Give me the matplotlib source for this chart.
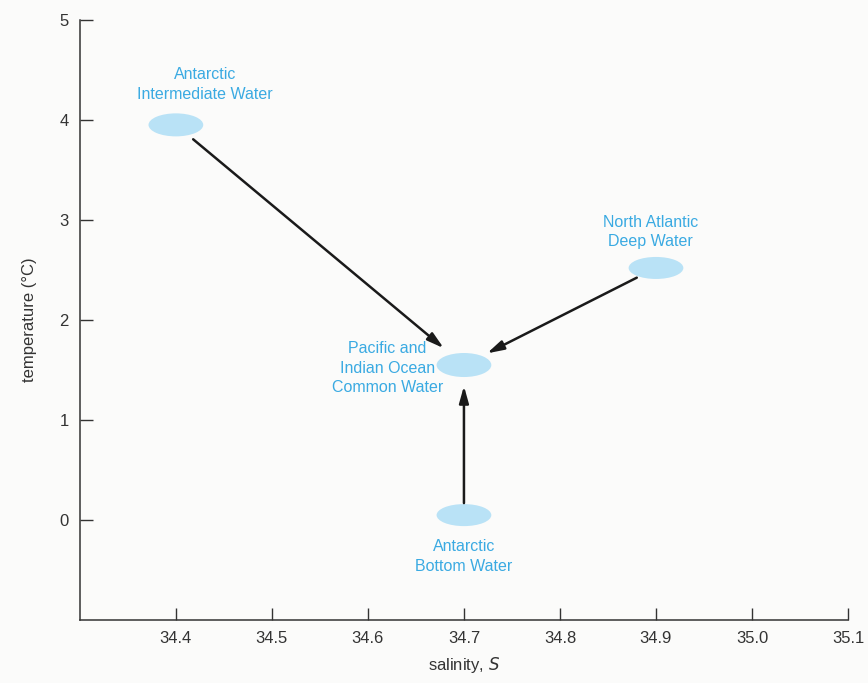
import matplotlib
matplotlib.use("Agg")
import matplotlib.pyplot as plt
from matplotlib.patches import Ellipse

# Water masses: name, salinity, temperature
water_names = [
    "Antarctic\nIntermediate Water",
    "Pacific and\nIndian Ocean\nCommon Water",
    "North Atlantic\nDeep Water",
    "Antarctic\nBottom Water",
]
salinity = [34.40, 34.70, 34.90, 34.70]
temperature = [3.95, 1.55, 2.52, 0.05]

# Label anchor positions (salinity, temperature)
label_s = [34.43, 34.62, 34.894, 34.70]
label_t = [4.35, 1.52, 2.88, -0.36]

# Mixing arrows: source index -> target index
arrow_from = [0, 2, 3]
arrow_to = [1, 1, 1]

xticks = [34.4, 34.5, 34.6, 34.7, 34.8, 34.9, 35.0, 35.1]
yticks = [0, 1, 2, 3, 4, 5]

plt.rcParams['font.family'] = ['Liberation Sans', 'DejaVu Sans']

fig = plt.figure(figsize=(8.68, 6.83), dpi=100, facecolor="#fbfbfa")
ax = fig.add_axes([0.092, 0.092, 0.885, 0.879])
ax.set_facecolor("#fbfbfa")

ax.set_xlim(34.3, 35.1)
ax.set_ylim(-1, 5)

blob_color = "#b9e2f6"
text_color = "#3aaae2"

heights = [0.23, 0.24, 0.22, 0.22]
for s, t, h in zip(salinity, temperature, heights):
    ax.add_patch(Ellipse((s, t), 0.057, h, facecolor=blob_color, edgecolor="none", zorder=2))

for name, s, t in zip(water_names, label_s, label_t):
    ax.text(s, t, name, ha="center", va="center", color=text_color,
            fontsize=11.5, linespacing=1.4, zorder=3)

# Arrows start just outside the source blob and stop short of the target blob
def shrink(p0, p1, a, b):
    dx, dy = p1[0] - p0[0], p1[1] - p0[1]
    return (p0[0] + a * dx, p0[1] + a * dy), (p0[0] + b * dx, p0[1] + b * dy)

shrinks = {0: (0.06, 0.93), 2: (0.10, 0.88), 3: (0.08, 0.86)}
for i, j in zip(arrow_from, arrow_to):
    a, b = shrinks[i]
    start, end = shrink((salinity[i], temperature[i]), (salinity[j], temperature[j]), a, b)
    ax.annotate("", xy=end, xytext=start,
                arrowprops=dict(arrowstyle="-|>,head_length=1.0,head_width=0.28",
                                color="#1a1a1a", lw=1.8, shrinkA=0, shrinkB=0),
                zorder=4)

ax.set_xticks(xticks)
ax.set_xticklabels([f"{v:.1f}" for v in xticks])
ax.set_yticks(yticks)
ax.tick_params(direction="in", length=9, width=1, colors="#333333",
               labelsize=12, labelcolor="#333333", pad=8)
for side in ("top", "right"):
    ax.spines[side].set_visible(False)
for side in ("left", "bottom"):
    ax.spines[side].set_color("#333333")
    ax.spines[side].set_linewidth(1.1)

ax.set_xlabel("salinity, $S$", fontsize=12, color="#333333", labelpad=6)
ax.set_ylabel("temperature (°C)", fontsize=12, color="#333333", labelpad=16)

fig.savefig("out.png", dpi=100, facecolor=fig.get_facecolor())
